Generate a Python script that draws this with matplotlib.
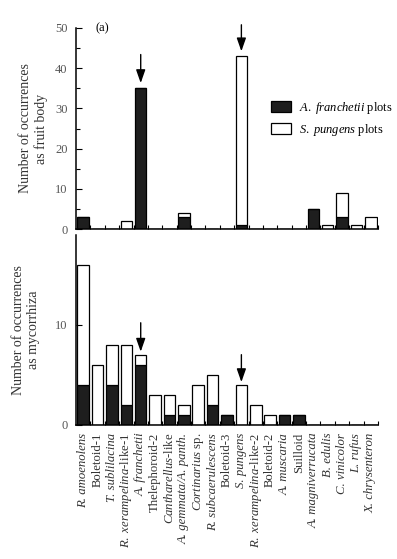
import numpy as np
import matplotlib
matplotlib.use("Agg")
import matplotlib.pyplot as plt
import matplotlib.patches as patches

plt.rcParams['font.family'] = 'Liberation Serif'
plt.rcParams['mathtext.fontset'] = 'custom'
plt.rcParams['mathtext.rm'] = 'Liberation Serif'
plt.rcParams['mathtext.it'] = 'Liberation Serif:italic'

# taxa, in plot order (names fully in italics are plain strings, set italic below)
taxa = ["R. amoenolens", "Boletoid-1", "T. sublilacina",
        r"$\mathit{R.\ xerampelina}$-like-1", "A. franchetii", "Thelephoroid-2",
        r"$\mathit{Cantharellus}$-like", "A. gemmata/A. panth.",
        r"$\mathit{Cortinarius}$ sp.", "R. subcaerulescens", "Boletoid-3",
        "S. pungens", r"$\mathit{R.\ xerampelina}$-like-2", "Boletoid-2",
        "A. muscaria", "Suilloid", "A. magniverrucata",
        "B. edulis", "C. vinicolor", "L. rufus", "X. chrysenteron"]
italic = [1, 0, 1, 0, 1, 0, 0, 1, 0, 1, 0, 1, 0, 0, 1, 0, 1, 1, 1, 1, 1]

# fruit body counts
fb_franchetii = [3, 0, 0, 0, 35, 0, 0, 3, 0, 0, 0, 1, 0, 0, 0, 0, 5, 0, 3, 0, 0]
fb_pungens    = [0, 0, 0, 2, 0, 0, 0, 1, 0, 0, 0, 42, 0, 0, 0, 0, 0, 1, 6, 1, 3]
# mycorrhiza counts
my_franchetii = [4, 0, 4, 2, 6, 0, 1, 1, 0, 2, 1, 0, 0, 0, 1, 1, 0, 0, 0, 0, 0]
my_pungens    = [12, 6, 4, 6, 1, 3, 2, 1, 4, 3, 0, 4, 2, 1, 0, 0, 0, 0, 0, 0, 0]

W, H = 397, 559
fig = plt.figure(figsize=(W / 100, H / 100), dpi=100)
ax1 = fig.add_axes([76 / W, 1 - 229 / H, 302 / W, 201 / H])
ax2 = fig.add_axes([76 / W, 1 - 424.5 / H, 302 / W, 189.5 / H])

x = np.arange(len(taxa))
dark = '#1e1e1e'
for ax, af, sp in [(ax1, fb_franchetii, fb_pungens), (ax2, my_franchetii, my_pungens)]:
    ax.bar(x, af, width=0.8, color=dark, edgecolor='black', linewidth=0.9)
    ax.bar(x, sp, bottom=af, width=0.8, color='white', edgecolor='black', linewidth=0.9)
    ax.set_xlim(-0.5, len(taxa) - 0.5)
    for s in ['top', 'right']:
        ax.spines[s].set_visible(False)
    for s in ['left', 'bottom']:
        ax.spines[s].set_linewidth(1.1)
    ax.set_xticks(x + 0.5, minor=True)
    ax.tick_params(axis='x', which='minor', direction='in', length=3, width=0.8)
    ax.tick_params(axis='y', which='both', direction='in', width=0.8, labelsize=9,
                   labelcolor='#555555', pad=6)
    ax.tick_params(axis='y', which='major', length=4)
    ax.tick_params(axis='y', which='minor', length=3)

ax1.set_ylim(0, 50)
ax1.set_yticks([0, 10, 20, 30, 40, 50])
ax1.set_yticks(np.arange(5, 50, 10), minor=True)
ax1.set_xticks(x)
ax1.tick_params(axis='x', which='major', length=0, labelbottom=False)
ax1.set_ylabel("Number of occurrences\nas fruit body", fontsize=10, color='#333333', labelpad=5)
ax1.text(0.065, 1.0, "(a)", transform=ax1.transAxes, fontsize=9, va='center')

ax2.set_ylim(0, 19)
ax2.set_yticks([0, 10])
ax2.set_xticks(x)
labels = ax2.set_xticklabels(taxa, rotation=90, fontsize=9.2, color='#333333')
for lab, it in zip(labels, italic):
    if it:
        lab.set_fontstyle('italic')
ax2.tick_params(axis='x', which='major', length=0, pad=6)
ax2.set_ylabel("Number of occurrences\nas mycorrhiza", fontsize=10, color='#333333', labelpad=11)

# arrows marking the two host-associated taxa
arr = dict(arrowstyle='-|>,head_width=0.28,head_length=0.8', color='black', lw=1.0,
           shrinkA=0, shrinkB=0)
ax1.annotate("", xy=(4, 36.3), xytext=(4, 43.4), arrowprops=arr, annotation_clip=False)
ax1.annotate("", xy=(11, 44.2), xytext=(11, 50.8), arrowprops=arr, annotation_clip=False)
ax2.annotate("", xy=(4, 7.3), xytext=(4, 10.2), arrowprops=arr, annotation_clip=False)
ax2.annotate("", xy=(11, 4.25), xytext=(11, 7.0), arrowprops=arr, annotation_clip=False)

handles = [patches.Patch(facecolor=dark, edgecolor='black', linewidth=0.9),
           patches.Patch(facecolor='white', edgecolor='black', linewidth=0.9)]
ax1.legend(handles, [r"$\mathit{A.\ franchetii}$ plots", r"$\mathit{S.\ pungens}$ plots"],
           loc='upper left', bbox_to_anchor=(0.61, 0.70), frameon=False, fontsize=9,
           handlelength=1.6, handleheight=1.0, handletextpad=0.6, labelspacing=0.5)

fig.savefig("out.png", dpi=100)
